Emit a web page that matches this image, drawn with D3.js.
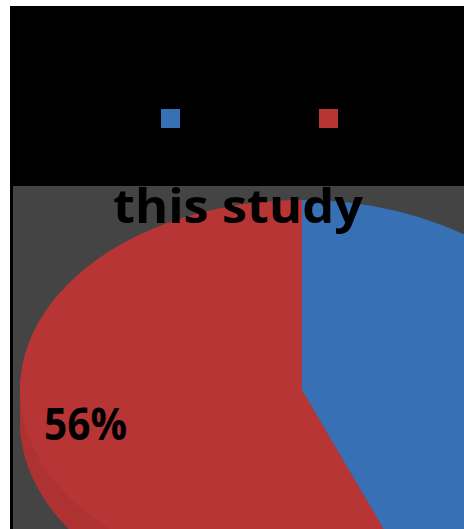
<!DOCTYPE html>
<html>
<head>
<meta charset="utf-8">
<script src="https://cdn.jsdelivr.net/npm/d3@7"></script>
<style>
  body { margin: 0; background: #fff; }
</style>
</head>
<body>
<div id="chart"></div>
<script>
// Chart data
var categories = ["", ""];
var shares = [44, 56];
var colors = ["#3870b6", "#b73535"];
var labels = ["", "56%"];
var title = "this study";

var svgWidth = 464;
var svgHeight = 529;

var svg = d3.select("#chart")
    .append("svg")
    .attr("width", svgWidth)
    .attr("height", svgHeight);

// black frame + top band
svg.append("rect")
    .attr("x", 10).attr("y", 6)
    .attr("width", svgWidth - 10).attr("height", svgHeight - 6)
    .attr("fill", "#000");

// grey plot area
svg.append("rect")
    .attr("x", 13).attr("y", 186)
    .attr("width", svgWidth - 13).attr("height", svgHeight - 186)
    .attr("fill", "#444444");

svg.append("clipPath").attr("id", "plotClip")
    .append("rect")
    .attr("x", 13).attr("y", 186)
    .attr("width", svgWidth - 13).attr("height", svgHeight - 186);

// legend
var legendX = d3.scalePoint().domain(d3.range(categories.length)).range([161, 319]);
svg.selectAll("rect.legend")
    .data(categories)
    .enter()
    .append("rect")
    .attr("class", "legend")
    .attr("x", (d, i) => legendX(i))
    .attr("y", 109)
    .attr("width", 19).attr("height", 19)
    .attr("fill", (d, i) => colors[i]);

// tilted pie: circle squashed into an ellipse
var cx = 302, cy = 390, rx = 282, ry = 190, depth = 32;

var pie = d3.pie().sort(null).value(d => d);
var arc = d3.arc().innerRadius(0).outerRadius(rx);
var arcs = pie(shares);

var pieLayer = svg.append("g")
    .attr("clip-path", "url(#plotClip)");

// side wall: the slices stacked downwards
d3.range(depth, 0, -2).forEach(off => {
    pieLayer.append("g")
        .attr("transform", `translate(${cx}, ${cy + off}) scale(1, ${ry / rx})`)
        .selectAll("path")
        .data(arcs)
        .enter()
        .append("path")
        .attr("d", arc)
        .attr("fill", (d, i) => d3.color(colors[i]).darker(0.12));
});

pieLayer.append("g")
    .attr("transform", `translate(${cx}, ${cy}) scale(1, ${ry / rx})`)
    .selectAll("path")
    .data(arcs)
    .enter()
    .append("path")
    .attr("d", arc)
    .attr("fill", (d, i) => colors[i]);

// percentage label
svg.append("text")
    .attr("x", 44)
    .attr("y", 440)
    .attr("textLength", 83)
    .attr("lengthAdjust", "spacingAndGlyphs")
    .style("font-family", "'Open Sans', 'Liberation Sans', sans-serif")
    .style("font-weight", "bold")
    .style("font-size", "44px")
    .attr("fill", "#000")
    .text(labels[1]);

// title
svg.append("text")
    .attr("x", 113)
    .attr("y", 223)
    .attr("textLength", 250)
    .attr("lengthAdjust", "spacingAndGlyphs")
    .style("font-family", "'Open Sans', 'Liberation Sans', sans-serif")
    .style("font-weight", "bold")
    .style("font-size", "46px")
    .attr("fill", "#000")
    .text(title);
</script>
</body>
</html>
